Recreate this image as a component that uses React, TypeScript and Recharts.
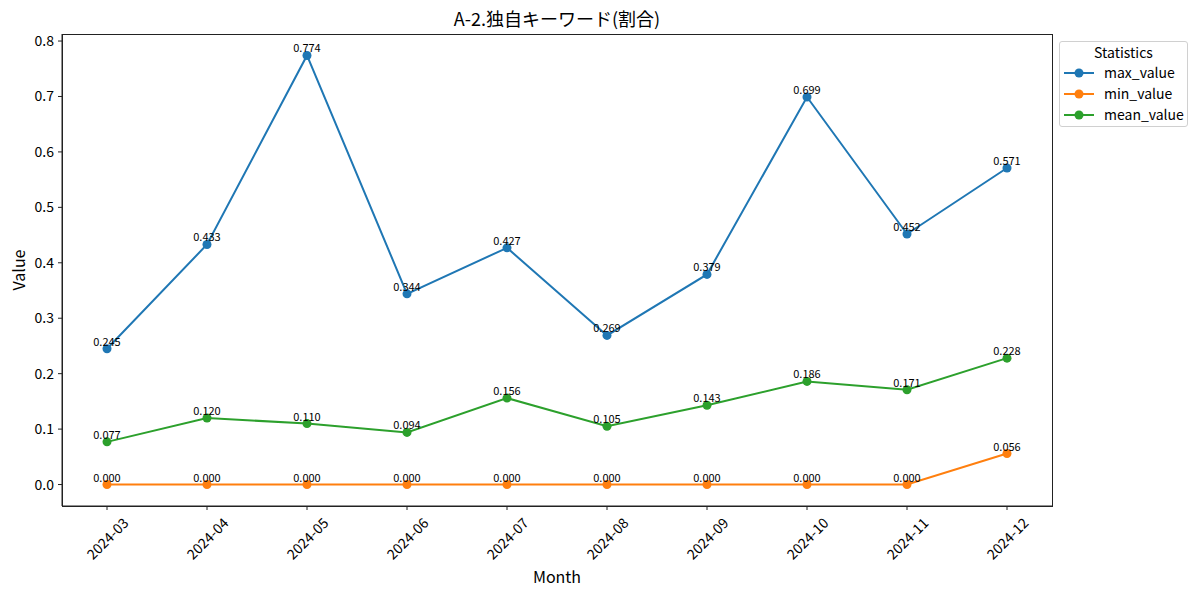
import React from 'react';
import { LineChart, Line, XAxis, YAxis, LabelList } from 'recharts';

const months = ['2024-03', '2024-04', '2024-05', '2024-06', '2024-07', '2024-08', '2024-09', '2024-10', '2024-11', '2024-12'];
const maxValues = [0.245, 0.433, 0.774, 0.344, 0.427, 0.269, 0.379, 0.699, 0.452, 0.571];
const minValues = [0, 0, 0, 0, 0, 0, 0, 0, 0, 0.056];
const meanValues = [0.077, 0.12, 0.11, 0.094, 0.156, 0.105, 0.143, 0.186, 0.171, 0.228];
const yTicks = [0, 0.1, 0.2, 0.3, 0.4, 0.5, 0.6, 0.7, 0.8];

const series = [
  { key: 'max_value', color: '#1f77b4' },
  { key: 'min_value', color: '#ff7f0e' },
  { key: 'mean_value', color: '#2ca02c' },
];

const data = months.map((month, i) => ({
  month,
  max_value: maxValues[i],
  min_value: minValues[i],
  mean_value: meanValues[i],
}));

const FONT = '"Noto Sans CJK JP", "Noto Sans", sans-serif';

function PointLabel(props: any) {
  const { x, y, value } = props;
  return (
    <text x={x} y={y - 3} textAnchor="middle" fontSize={11} fill="#000" fontFamily={FONT}>
      {Number(value).toFixed(3)}
    </text>
  );
}

function MonthTick(props: any) {
  const { x, y, payload } = props;
  return (
    <g transform={`translate(${x},${y + 26})`}>
      <text transform="rotate(-45)" textAnchor="middle" dominantBaseline="central" fontSize={14} fill="#000" fontFamily={FONT}>
        {payload.value}
      </text>
    </g>
  );
}

function StatsLegend() {
  return (
    <div
      style={{
        position: 'absolute',
        left: 1059,
        top: 41,
        width: 129,
        height: 86,
        border: '1px solid #d0d0d0',
        borderRadius: 3,
        background: '#fff',
        fontFamily: FONT,
        fontSize: 14,
        boxSizing: 'border-box',
      }}
    >
      <div style={{ textAlign: 'center', marginTop: 0, height: 21, lineHeight: '21px' }}>Statistics</div>
      {series.map((s) => (
        <div key={s.key} style={{ display: 'flex', alignItems: 'center', height: 21, marginTop: 0 }}>
          <svg width={40} height={21} style={{ marginLeft: 3 }}>
            <line x1={1} y1={10} x2={31} y2={10} stroke={s.color} strokeWidth={2} />
            <circle cx={16} cy={10} r={4.5} fill={s.color} />
          </svg>
          <span style={{ marginLeft: 1, lineHeight: '21px', position: 'relative', top: -1 }}>{s.key}</span>
        </div>
      ))}
    </div>
  );
}

export default function App() {
  return (
    <div style={{ position: 'absolute', left: 0, top: 0, width: 1200, height: 595, background: '#fff', fontFamily: FONT }}>
      <div style={{ position: 'absolute', left: 62, width: 990, top: 5, textAlign: 'center', fontSize: 18, color: '#000' }}>
        A-2.独自キーワード(割合)
      </div>
      <LineChart width={1200} height={595} data={data} margin={{ top: 34, right: 148, bottom: 29, left: 22 }}>
        <XAxis
          dataKey="month"
          padding={{ left: 45, right: 45 }}
          tick={<MonthTick />}
          tickSize={4}
          tickMargin={2}
          interval={0}
          height={60}
          stroke="#222"
          tickLine={{ stroke: '#222' }}
        />
        <YAxis
          domain={[-0.0387, 0.8127]}
          ticks={yTicks}
          tickFormatter={(v: number) => v.toFixed(1)}
          allowDataOverflow
          width={40}
          tickSize={4}
          tickMargin={4}
          tick={{ fontSize: 14, fill: '#000', fontFamily: FONT }}
          stroke="#222"
        />
        {series.map((s) => (
          <Line
            key={s.key}
            dataKey={s.key}
            stroke={s.color}
            strokeWidth={2}
            dot={{ r: 4.5, fill: s.color, stroke: s.color, strokeWidth: 0 }}
            activeDot={false}
            isAnimationActive={false}
          >
            <LabelList dataKey={s.key} content={<PointLabel />} />
          </Line>
        ))}
      </LineChart>
      <div
        style={{
          position: 'absolute',
          left: 61.5,
          top: 33.5,
          width: 991,
          height: 473,
          border: '1px solid #222',
          boxSizing: 'border-box',
          pointerEvents: 'none',
        }}
      />
      <div
        style={{
          position: 'absolute',
          left: 18,
          top: 270,
          fontSize: 16,
          transform: 'translate(-50%, -50%) rotate(-90deg)',
          whiteSpace: 'nowrap',
        }}
      >
        Value
      </div>
      <div style={{ position: 'absolute', left: 62, width: 990, top: 564, textAlign: 'center', fontSize: 16 }}>Month</div>
      <StatsLegend />
    </div>
  );
}
